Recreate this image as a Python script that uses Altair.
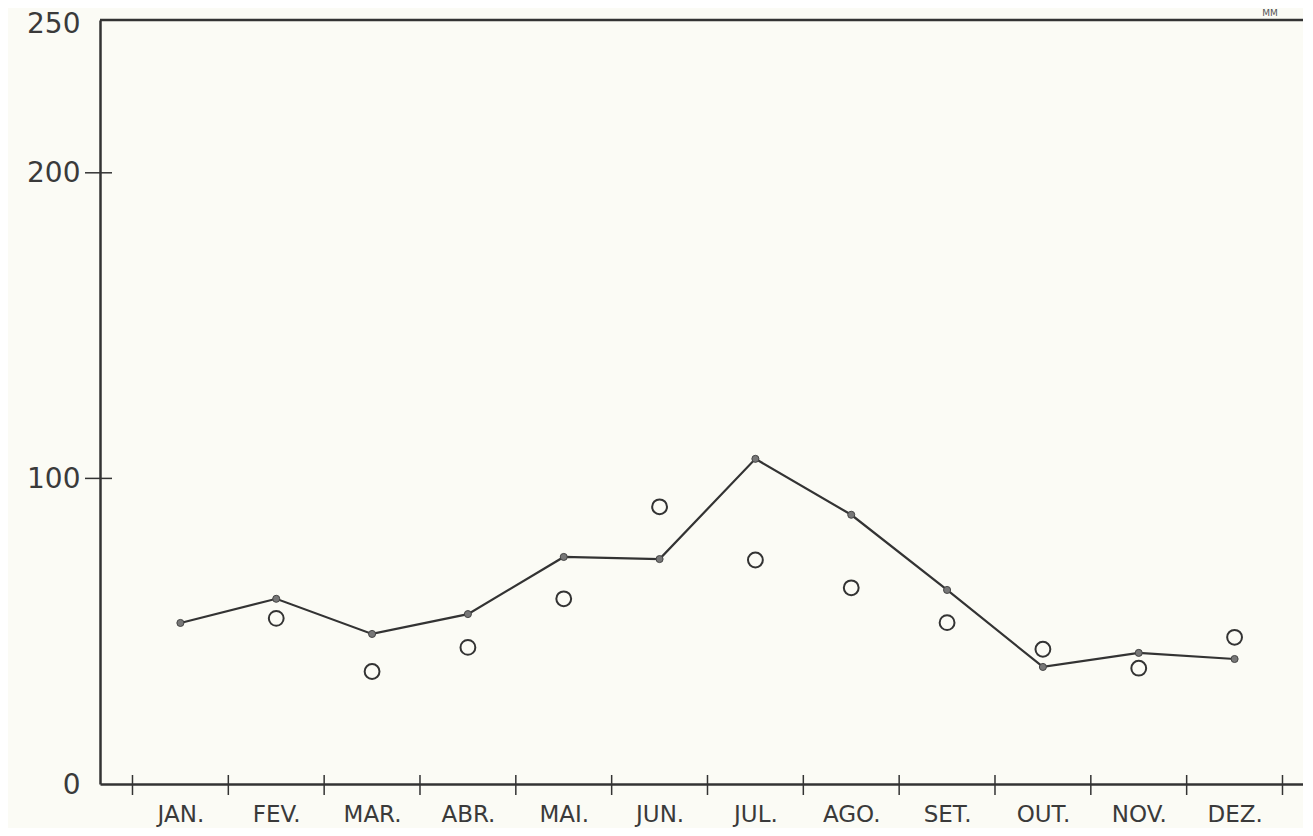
import altair as alt
import pandas as pd

months = ["JAN.", "FEV.", "MAR.", "ABR.", "MAI.", "JUN.", "JUL.", "AGO.", "SET.", "OUT.", "NOV.", "DEZ."]
month_idx = list(range(12))
line_values = [52.7, 60.6, 49.1, 55.6, 74.3, 73.6, 106.4, 88.1, 63.5, 38.3, 42.9, 40.9]
open_idx = [1, 2, 3, 4, 5, 6, 7, 8, 9, 10, 11]
open_values = [54.2, 36.8, 44.7, 60.6, 90.7, 73.3, 64.2, 52.8, 44.1, 37.9, 48.0]
x_boundaries = [i - 0.5 for i in range(13)]
y_tick_values = [100, 200]
y_label_values = [0, 100, 200, 250]
unit_text = ["MM"]

W, H = 1203, 764
INK = "#333333"
FONT = "DejaVu Sans"

line_df = pd.DataFrame({"m": month_idx, "v": line_values})
open_df = pd.DataFrame({"m": open_idx, "v": open_values})
bx_df = pd.DataFrame({"b": x_boundaries})
by_df = pd.DataFrame({"t": y_tick_values})

label_expr = "[" + ",".join("'%s'" % m for m in months) + "][datum.value]"

xs = alt.Scale(domain=[-0.839, 11.714], nice=False, zero=False)
ys = alt.Scale(domain=[0, 250], nice=False, zero=True)

x_axis = alt.Axis(values=month_idx, labelExpr=label_expr, title=None, grid=False, ticks=False,
                  domain=True, domainColor=INK, domainWidth=2.5, labelFont=FONT,
                  labelFontSize=23, labelColor="#3a3a3a", labelPadding=19, labelBaseline="top")
y_axis = alt.Axis(values=y_label_values, title=None, grid=False, ticks=False, domain=True,
                  domainColor=INK, domainWidth=2.5, labelFont=FONT, labelFontSize=28,
                  labelColor="#3a3a3a", labelPadding=20,
                  labelOffset={"condition": {"test": "datum.value == 250", "value": 4}, "value": 1})

line = alt.Chart(line_df).mark_line(color=INK, strokeWidth=2.2).encode(
    x=alt.X("m:Q", scale=xs, axis=x_axis),
    y=alt.Y("v:Q", scale=ys, axis=y_axis),
)
dots = alt.Chart(line_df).mark_point(filled=True, size=50, color="#777777", stroke="#444444",
                                     strokeWidth=1, opacity=1).encode(
    x=alt.X("m:Q", scale=xs), y=alt.Y("v:Q", scale=ys))
opens = alt.Chart(open_df).mark_point(filled=False, size=220, color=INK, strokeWidth=2,
                                      opacity=1).encode(
    x=alt.X("m:Q", scale=xs), y=alt.Y("v:Q", scale=ys))

xticks = alt.Chart(bx_df).mark_rule(color=INK, strokeWidth=1.5).encode(
    x=alt.X("b:Q", scale=xs), y=alt.value(H - 9), y2=alt.value(H + 11))
yticks = alt.Chart(by_df).mark_rule(color=INK, strokeWidth=1.5).encode(
    y=alt.Y("t:Q", scale=ys), x=alt.value(-15), x2=alt.value(12))
top = alt.Chart(pd.DataFrame({"t": [250]})).mark_rule(color=INK, strokeWidth=2.5).encode(
    y=alt.Y("t:Q", scale=ys), x=alt.value(0), x2=alt.value(W))
mm = alt.Chart(pd.DataFrame({"s": unit_text})).mark_text(font=FONT, fontSize=9, color="#555555",
                                                         baseline="alphabetic", align="center").encode(
    text="s:N", x=alt.value(1170), y=alt.value(-4))

chart = alt.layer(top, line, dots, opens, xticks, yticks, mm).properties(
    width=W, height=H, background="#fbfbf5",
    autosize=alt.AutoSizeParams(type="none"),
    padding={"left": 92, "top": 12, "right": 0, "bottom": 44},
).configure_view(stroke=None)

chart.save("out.html", embed_options={"renderer": "svg", "actions": False})
